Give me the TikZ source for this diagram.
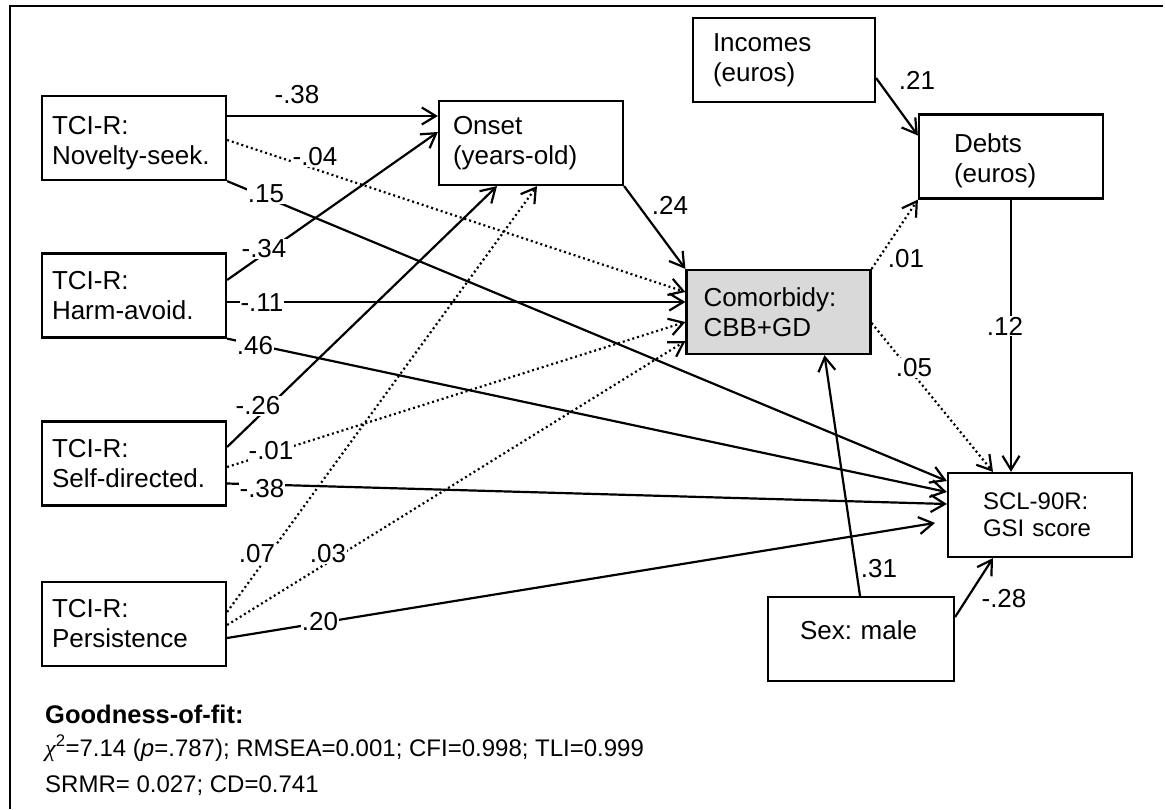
\documentclass[tikz,border=0pt]{standalone}
\usepackage{fontspec}
\setmainfont{Liberation Sans}
\newfontfamily\grserif{Liberation Serif}
\usetikzlibrary{arrows.meta,calc}
\definecolor{boxgray}{RGB}{217,217,217}
\frenchspacing
\begin{document}
\begin{tikzpicture}[x=1pt,y=-1pt,
  bx/.style={draw, line width=2.2pt, minimum height=84pt, align=left, inner ysep=0pt,
             font=\fontsize{26}{30}\selectfont\frenchspacing},
  edge/.style={line width=2.2pt, -{Straight Barb[length=14pt,width=17pt]}},
  dotd/.style={edge, dash pattern=on 2pt off 3pt},
  lbl/.style={fill=white, inner sep=1pt, font=\fontsize{26}{30}\selectfont},
  fit/.style={anchor=base west, inner sep=0pt, font=\fontsize{24}{28}\selectfont}]
\useasboundingbox (0,0) rectangle (1165,809);
\draw[line width=2.5pt] (10,809) -- (10,6) -- (1163,6);

% boxes
\node[bx, inner xsep=10pt, text width=164pt, text depth=25pt] (ns) at (134,138) {TCI-R:\\Novelty-seek.};
\node[bx, inner xsep=10pt, text width=164pt] (ha) at (134,295.5) {TCI-R:\\Harm-avoid.};
\node[bx, inner xsep=10pt, text width=164pt] (sd) at (134,463.5) {TCI-R:\\Self-directed.};
\node[bx, inner xsep=10pt, text width=164pt] (pe) at (134,624) {TCI-R:\\Persistence};
\node[bx, inner xsep=14pt, text width=156pt] (on) at (531,143) {Onset\\(years-old)};
\node[bx, inner xsep=20pt, text width=142pt] (inc) at (784,60) {Incomes\\(euros)};
\node[bx, inner xsep=35pt, text width=114pt, text depth=26pt] (deb) at (1011,156.5) {Debts\\(euros)};
\node[bx, fill=boxgray, inner xsep=17pt, text width=150pt] (com) at (778.5,312) {Comorbidy:\\CBB+GD};
\node[bx, inner xsep=35pt, text width=114pt, font=\fontsize{24}{27}\selectfont] (scl) at (1040,515) {SCL-90R:\\GSI score};
\node[bx, inner xsep=32pt, text width=122pt, text depth=17pt] (sex) at (861,639) {Sex: male};

% connectors
\draw[edge] ([shift={(0,-22)}]ns.east) -- ([shift={(0,-27)}]on.west);
\draw[dotd] ([shift={(0,2)}]ns.east) -- ([shift={(0,-20)}]com.west);
\draw[edge] (ns.south east) -- ([shift={(0,-34)}]scl.west);
\draw[edge] ([shift={(0,-15.5)}]ha.east) -- ([shift={(0,-11)}]on.west);
\draw[edge] ([shift={(0,6.5)}]ha.east) -- ([shift={(0,-10)}]com.west);
\draw[edge] (ha.south east) -- ([shift={(0,-23)}]scl.west);
\draw[edge] ([shift={(0,-16.5)}]sd.east) -- ([shift={(-34,0)}]on.south);
\draw[dotd] ([shift={(0,3.5)}]sd.east) -- ([shift={(0,10)}]com.west);
\draw[edge] ([shift={(0,20)}]sd.east) -- ([shift={(0,-11)}]scl.west);
\draw[dotd] ([shift={(0,-12)}]pe.east) -- ([shift={(6,0)}]on.south);
\draw[dotd] ([shift={(0,1)}]pe.east) -- ([shift={(0,29)}]com.west);
\draw[edge, shorten >=12pt] ([shift={(0,14)}]pe.east) -- ([shift={(0,6)}]scl.west);
\draw[edge] (on.south east) -- (com.north west);
\draw[edge] ([shift={(0,18)}]inc.east) -- ([shift={(0,-21)}]deb.west);
\draw[dotd] (com.north east) -- (deb.south west);
\draw[dotd] ([shift={(0,11)}]com.east) -- ([shift={(-47,0)}]scl.north);
\draw[edge] (deb.south) -- (deb.south |- scl.north);
\draw[edge] ([shift={(-1,0)}]sex.north) -- ([shift={(46,0)}]com.south);
\draw[edge] ([shift={(0,-22)}]sex.east) -- ([shift={(-47,0)}]scl.south);

% coefficients
\node[lbl] (c1) at (297,95) {-.38};
\node[lbl] (c2) at (315,157) {-.04};
\node[lbl] (c3) at (266,194) {.15};
\node[lbl] (c4) at (264,249) {-.34};
\node[lbl] (c5) at (262,303) {-.11};
\node[lbl] (c6) at (255,346) {.46};
\node[lbl] (c7) at (258,406) {-.26};
\node[lbl] (c8) at (271,451) {-.01};
\node[lbl] (c9) at (262,489) {-.38};
\node[lbl] (c10) at (257,554) {.07};
\node[lbl] (c11) at (328,554) {.03};
\node[lbl] (c12) at (320,622) {.20};
\node[lbl] (c13) at (670,205) {.24};
\node[lbl] (c14) at (917,80) {.21};
\node[lbl] (c15) at (906,259) {.01};
\node[lbl] (c16) at (914,368) {.05};
\node[lbl] (c17) at (1005,326) {.12};
\node[lbl] (c18) at (879,569) {.31};
\node[lbl] (c19) at (1004,599) {-.28};

% fit indices
\node[fit, font=\fontsize{25.5}{30}\selectfont\bfseries] (gof) at (45,723) {Goodness-of-fit:};
\node[fit] (fit1) at (45,756) {{\grserif\itshape χ}\textsuperscript{2}=7.14 (\textit{p}=.787); RMSEA=0.001; CFI=0.998; TLI=0.999};
\node[fit] (fit2) at (45,792) {SRMR= 0.027; CD=0.741};
\end{tikzpicture}
\end{document}
